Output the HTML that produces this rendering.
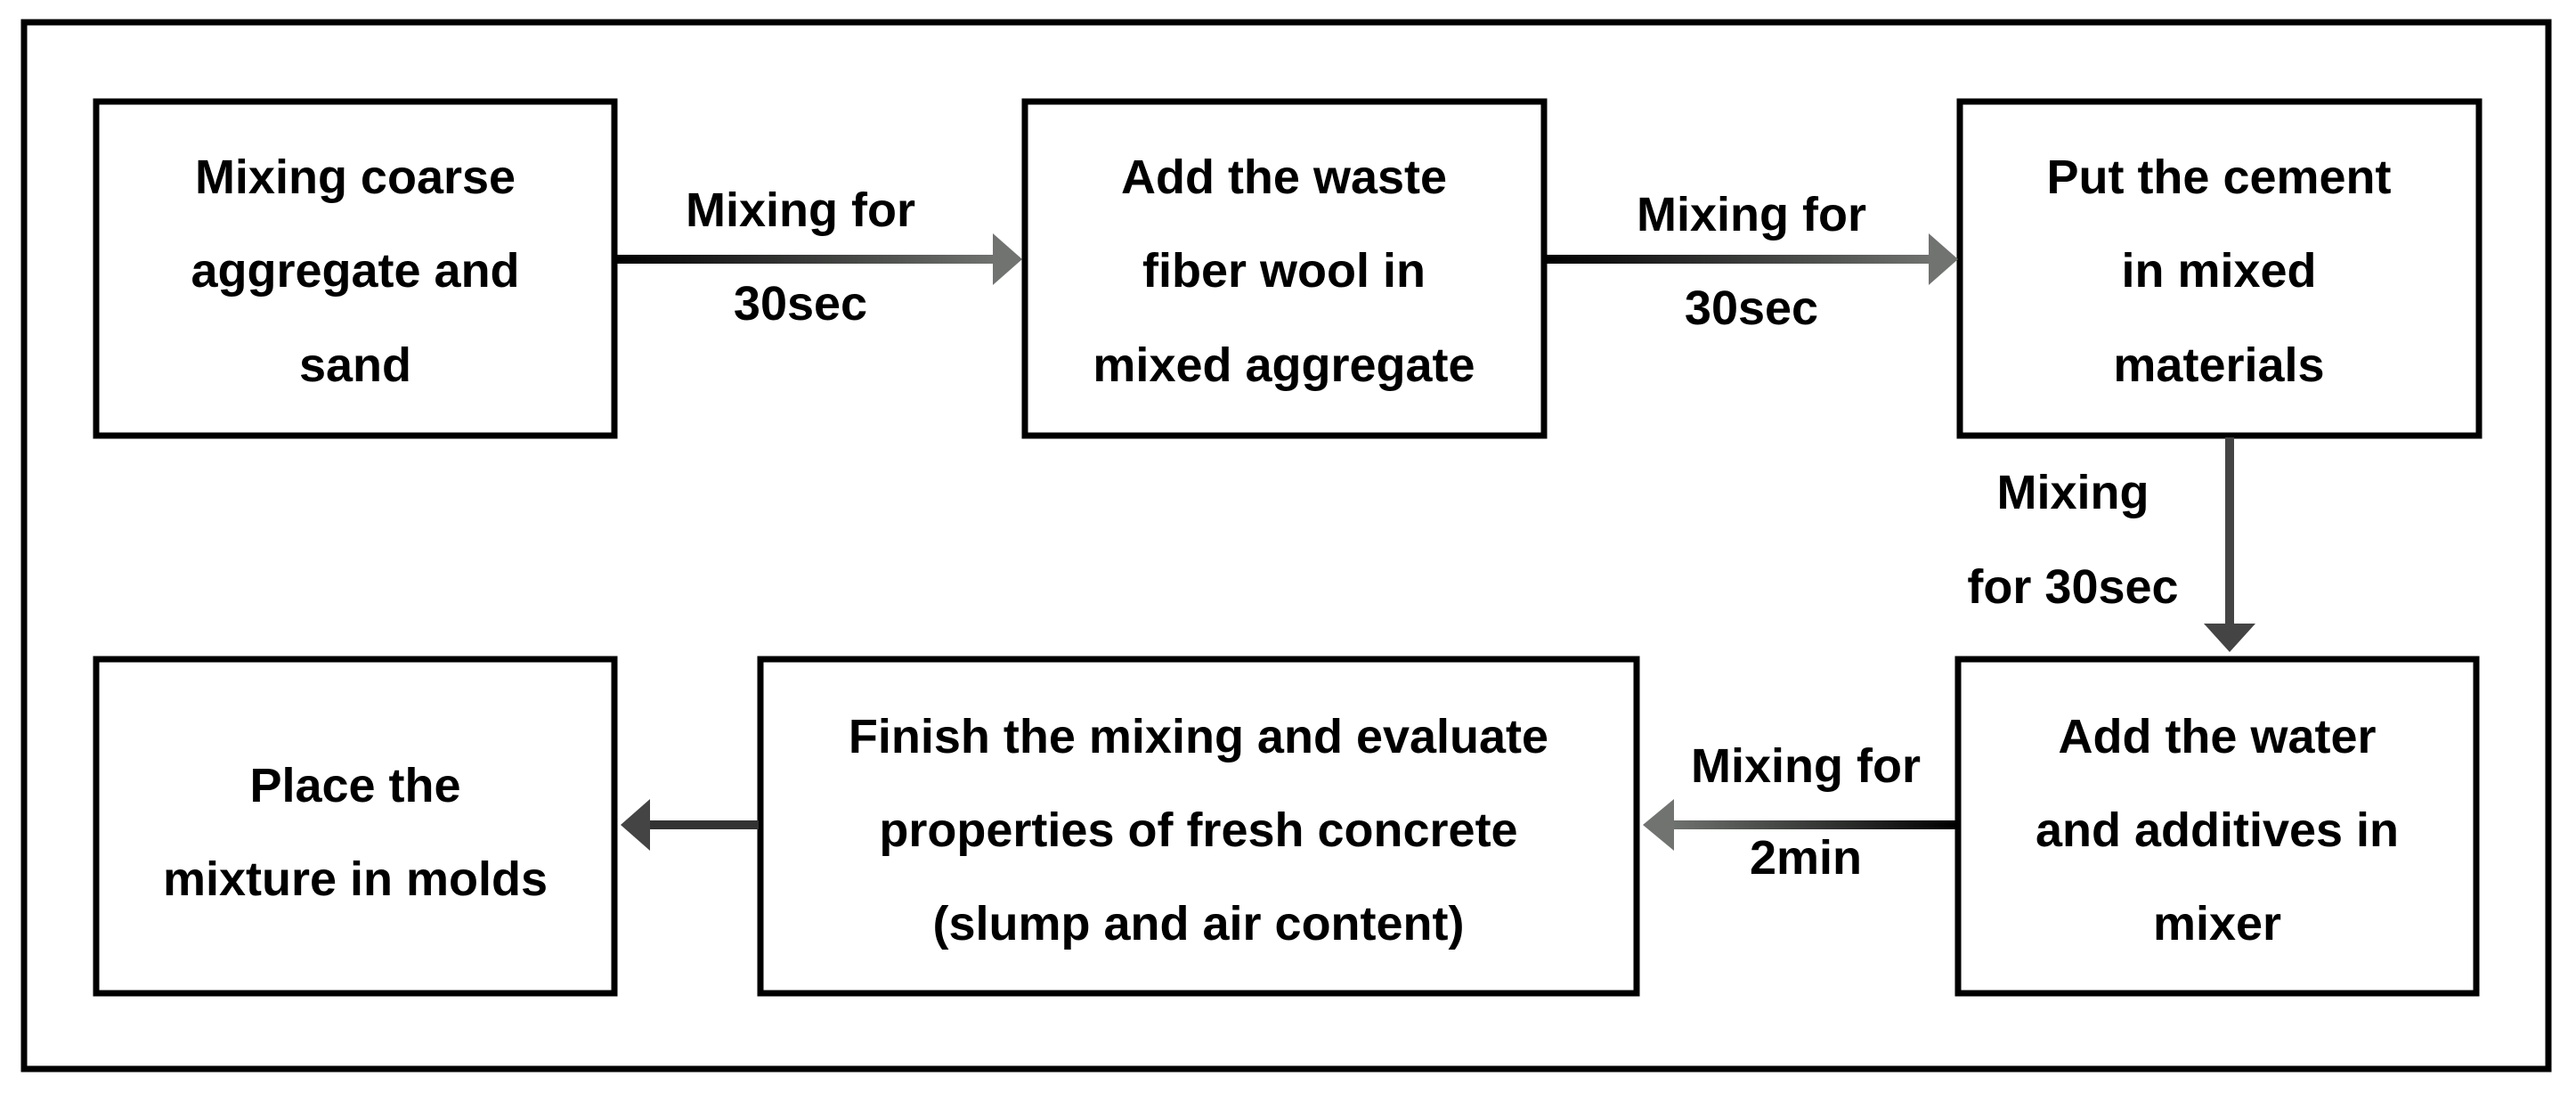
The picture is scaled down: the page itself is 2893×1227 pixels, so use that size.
<!DOCTYPE html>
<html><head><meta charset="utf-8"><style>html,body{margin:0;padding:0;background:#fff}svg{display:block}</style></head>
<body>
<svg width="2893" height="1227" viewBox="0 0 2893 1227" xmlns="http://www.w3.org/2000/svg" font-family="Liberation Sans, sans-serif" font-weight="bold" font-size="54" fill="#000">
<defs>
<linearGradient id="gr" x1="0" x2="1" y1="0" y2="0"><stop offset="0" stop-color="#000"/><stop offset="1" stop-color="#707370"/></linearGradient>
<linearGradient id="gl" x1="1" x2="0" y1="0" y2="0"><stop offset="0" stop-color="#000"/><stop offset="1" stop-color="#707370"/></linearGradient>
</defs>
<rect x="27" y="25" width="2835" height="1175" fill="none" stroke="#000" stroke-width="7"/>
<g fill="none" stroke="#000" stroke-width="7">
<rect x="108" y="114" width="582" height="375"/>
<rect x="1151" y="114" width="583" height="375"/>
<rect x="2201" y="114" width="583" height="375"/>
<rect x="2199" y="740" width="582" height="375"/>
<rect x="854" y="740" width="984" height="375"/>
<rect x="108" y="740" width="582" height="375"/>
</g>
<rect x="692" y="286" width="428" height="10" fill="url(#gr)"/>
<polygon points="1115,262 1148,291 1115,320" fill="#707370"/>
<rect x="1736" y="286" width="436" height="10" fill="url(#gr)"/>
<polygon points="2166,262 2199,291 2166,320" fill="#707370"/>
<rect x="2499" y="491" width="10" height="213" fill="#444"/>
<polygon points="2475,700 2533,700 2504,732" fill="#444"/>
<rect x="1875" y="921" width="322" height="10" fill="url(#gl)"/>
<polygon points="1880,897 1845,926 1880,955" fill="#707370"/>
<rect x="725" y="921" width="127" height="10" fill="#333"/>
<polygon points="730,897 697,926 730,955" fill="#444"/>
<g text-anchor="middle" dominant-baseline="central">
<text x="399" y="199">Mixing coarse</text>
<text x="399" y="304">aggregate and</text>
<text x="399" y="410">sand</text>
<text x="1442" y="199">Add the waste</text>
<text x="1442" y="304">fiber wool in</text>
<text x="1442" y="410">mixed aggregate</text>
<text x="2492" y="199">Put the cement</text>
<text x="2492" y="304">in mixed</text>
<text x="2492" y="410">materials</text>
<text x="2490" y="827">Add the water</text>
<text x="2490" y="932">and additives in</text>
<text x="2490" y="1037">mixer</text>
<text x="1346" y="827">Finish the mixing and evaluate</text>
<text x="1346" y="932">properties of fresh concrete</text>
<text x="1346" y="1037">(slump and air content)</text>
<text x="399" y="882">Place the</text>
<text x="399" y="987">mixture in molds</text>
<text x="899" y="236">Mixing for</text>
<text x="899" y="341">30sec</text>
<text x="1967" y="241">Mixing for</text>
<text x="1967" y="346">30sec</text>
<text x="2328" y="553">Mixing</text>
<text x="2328" y="659">for 30sec</text>
<text x="2028" y="860">Mixing for</text>
<text x="2028" y="963">2min</text>
</g>
</svg>
</body></html>
